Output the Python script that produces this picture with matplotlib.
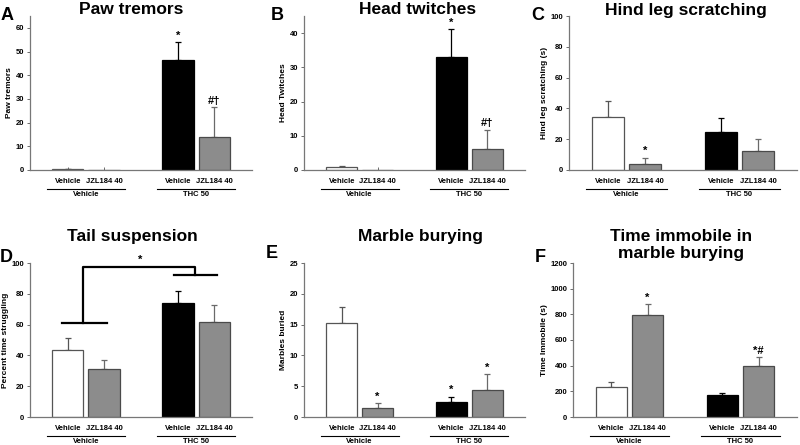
import numpy as np
import matplotlib
matplotlib.use("Agg")
import matplotlib.pyplot as plt
from matplotlib.transforms import blended_transform_factory

plt.rcParams['font.family'] = ['Liberation Sans', 'DejaVu Sans']
plt.rcParams['font.weight'] = 'bold'

# bar order: Vehicle/Vehicle, JZL184 40/Vehicle, Vehicle/THC 50, JZL184 40/THC 50
tick_labels = ['Vehicle', 'JZL184 40', 'Vehicle', 'JZL184 40']
group_labels = ['Vehicle', 'THC 50']

paw_mean = [0.3, 0.0, 46.5, 14.0]
paw_err = [0.2, 0.0, 7.5, 12.5]
paw_marks = ['', '', '*', '#\u2020']

head_mean = [1.0, 0.0, 33.0, 6.2]
head_err = [0.3, 0.0, 8.2, 5.6]
head_marks = ['', '', '*', '#\u2020']

scratch_mean = [34.5, 4.0, 25.0, 12.3]
scratch_err = [10.0, 4.0, 9.0, 7.7]
scratch_marks = ['', '*', '', '']

tail_mean = [43.5, 31.0, 74.0, 61.5]
tail_err = [7.5, 6.0, 8.0, 11.5]
tail_marks = ['', '', '', '']

marble_mean = [15.3, 1.4, 2.4, 4.4]
marble_err = [2.5, 0.8, 0.9, 2.6]
marble_marks = ['', '*', '*', '*']

immob_mean = [235, 795, 170, 400]
immob_err = [35, 85, 20, 65]
immob_marks = ['', '*', '', '*#']

x = np.array([1, 2, 4.05, 5.05])
bar_colors = ['white', '#8c8c8c', 'black', '#8c8c8c']
edge_colors = ['#555555', '#4a4a4a', 'black', '#4a4a4a']
err_colors = ['#555555', '#6a6a6a', 'black', '#6a6a6a']

W, H = 800, 445
fig = plt.figure(figsize=(8, 4.45), dpi=100)


def make_ax(l, r, t, b):
    return fig.add_axes([l / W, (H - b) / H, (r - l) / W, (b - t) / H])


def panel(ax, mean, err, marks, ymax, ystep, ylabel):
    for i in range(4):
        ax.bar(x[i], mean[i], width=0.86, color=bar_colors[i],
               edgecolor=edge_colors[i], linewidth=0.9, zorder=2)
        if err[i] > 0:
            ax.errorbar(x[i], mean[i], yerr=[[0], [err[i]]], fmt='none',
                        ecolor=err_colors[i], elinewidth=0.9, capsize=2.5,
                        capthick=0.9, zorder=1)
        if marks[i]:
            ax.annotate(marks[i], (x[i], mean[i] + err[i]), xytext=(0, 1),
                        textcoords='offset points', ha='center', va='bottom',
                        fontsize=8, fontweight='bold')
    ax.set_xlim(-0.05, 6.1)
    ax.set_ylim(0, ymax)
    ax.set_yticks(np.arange(0, ymax + 0.01, ystep))
    ax.set_xticks(x)
    ax.set_xticklabels(tick_labels)
    ax.tick_params(axis='both', labelsize=5.5, width=0.6, length=2,
                   color='#555555', pad=2)
    ax.tick_params(axis='x', length=2, direction='in', pad=6)
    for s in ['top', 'right']:
        ax.spines[s].set_visible(False)
    for s in ['left', 'bottom']:
        ax.spines[s].set_color('#777777')
        ax.spines[s].set_linewidth(0.9)
    ax.set_ylabel(ylabel, fontsize=6, fontweight='bold', labelpad=2)
    tr = blended_transform_factory(ax.transData, ax.transAxes)
    for gc, gl in zip([1.5, 4.55], group_labels):
        ax.plot([gc - 1.08, gc + 1.08], [-0.123, -0.123], color='black',
                lw=0.8, transform=tr, clip_on=False)
        ax.text(gc, -0.135, gl, ha='center', va='top', fontsize=5.5,
                fontweight='bold', transform=tr)


axA = make_ax(30, 252, 16, 170)
panel(axA, paw_mean, paw_err, paw_marks, 65, 10, 'Paw tremors')
axB = make_ax(304, 525, 16, 170)
panel(axB, head_mean, head_err, head_marks, 45, 10, 'Head Twitches')
axC = make_ax(569, 797, 16, 170)
panel(axC, scratch_mean, scratch_err, scratch_marks, 100, 20, 'Hind leg scratching (s)')
axD = make_ax(30, 252, 263, 417)
panel(axD, tail_mean, tail_err, tail_marks, 100, 20, 'Percent time struggling')
axE = make_ax(304, 525, 263, 417)
panel(axE, marble_mean, marble_err, marble_marks, 25, 5, 'Marbles buried')
axF = make_ax(573, 797, 263, 417)
panel(axF, immob_mean, immob_err, immob_marks, 1200, 200, 'Time Immobile (s)')

# tail suspension bracket (THC main effect)
axD.plot([0.83, 2.07], [61, 61], color='black', lw=1.6, clip_on=False)
axD.plot([3.93, 5.13], [92, 92], color='black', lw=1.6, clip_on=False)
axD.plot([1.42, 1.42, 4.52, 4.52], [61, 97.5, 97.5, 92], color='black',
         lw=1.6, clip_on=False)
axD.text(2.99, 98.5, '*', ha='center', va='bottom', fontsize=8,
         fontweight='bold')

# titles and panel letters
titles = [(131, 10, 'Paw tremors'), (418, 10, 'Head twitches'),
          (686, 10, 'Hind leg scratching'), (132, 237, 'Tail suspension'),
          (421, 237, 'Marble burying'), (681, 245, 'Time immobile in\nmarble burying')]
for tx, ty, tt in titles:
    fig.text(tx / W, (H - ty) / H, tt, ha='center', va='center',
             fontsize=12.5, fontweight='bold', linespacing=1.1)

letters = [(7, 15, 'A'), (277, 15, 'B'), (538, 15, 'C'),
           (6, 257, 'D'), (272, 254, 'E'), (540, 258, 'F')]
for lx, ly, lt in letters:
    fig.text(lx / W, (H - ly) / H, lt, ha='center', va='center',
             fontsize=13, fontweight='bold')

fig.savefig('out.png', dpi=100)
